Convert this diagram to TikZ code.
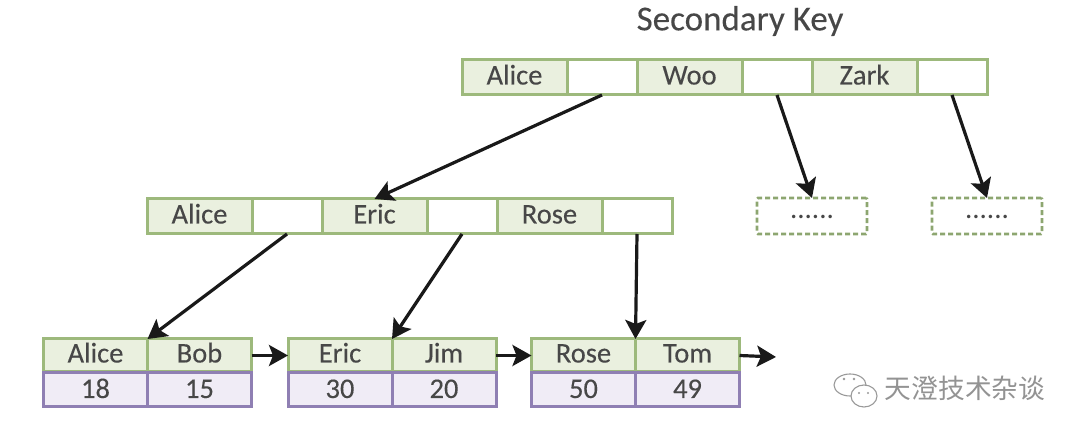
\documentclass[tikz,border=0pt]{standalone}
\usepackage{fontspec}
\setmainfont{Carlito}
\newfontfamily\cjk{Noto Sans CJK SC}
\usetikzlibrary{arrows.meta, positioning}

\definecolor{keygreen}{HTML}{9DB97C}
\definecolor{keyfill}{HTML}{EAF0DF}
\definecolor{valpurple}{HTML}{8F7FB3}
\definecolor{valfill}{HTML}{F0ECF6}
\definecolor{inkgray}{HTML}{474747}

\begin{document}
\begin{tikzpicture}[x=1pt, y=-1pt, >={Stealth[length=19pt, width=21pt, inset=4pt]},
      every node/.style={outer sep=0pt, inner sep=0pt, text=inkgray,
                  font=\fontsize{28.5}{28.5}\selectfont\addfontfeature{FakeBold=0.2}},
      link/.style={->, line width=3.2pt, black!90},
      key/.style={draw=keygreen, line width=3pt, fill=keyfill, minimum width=105pt, minimum height=35pt,
                  text height=18pt, text depth=4pt},
      ptr/.style={draw=keygreen, line width=3pt, fill=white, minimum width=70pt, minimum height=35pt},
      lkey/.style={key, minimum width=104pt, minimum height=33pt},
      val/.style={draw=valpurple, line width=3pt, fill=valfill, minimum width=104pt, minimum height=34pt,
                  text height=18pt, text depth=1pt},
      more/.style={draw=keygreen!90!black, line width=2.6pt, dash pattern=on 5pt off 3pt, rounded corners=1pt,
                  minimum width=110pt, minimum height=36pt, font=\fontsize{29}{29}\selectfont}]

    \useasboundingbox (0,0) rectangle (1080,435);

    % Row macro: #1=name, #2=y, #3=x of first cell, then 3 keys
    \newcommand{\noderow}[6]{%
        \node[key] (#1k1) at (#3+52.5,  #2) {#4};
        \node[ptr] (#1p1) at (#3+140,   #2) {};
        \node[key] (#1k2) at (#3+227.5, #2) {#5};
        \node[ptr] (#1p2) at (#3+315,   #2) {};
        \node[key] (#1k3) at (#3+402.5, #2) {#6};
        \node[ptr] (#1p3) at (#3+490,   #2) {};
    }
    % Leaf macro: #1=name, #2=x of first cell, then 2 keys and 2 values
    \newcommand{\leafpage}[6]{%
        \node[lkey] (#1a) at (#2+52,  355.5) {#3};
        \node[lkey] (#1b) at (#2+156, 355.5) {#4};
        \node[val]  (#1c) at (#2+52,  389.5) {#5};
        \node[val]  (#1d) at (#2+156, 389.5) {#6};
    }

    \node[font=\fontsize{35}{35}\selectfont\addfontfeature{FakeBold=0.2}] (title) at (740,21) {Secondary Key};

    %          name  y      x    keys
    \noderow  {top} {77.5} {462} {Alice}{Woo}{Zark}
    \noderow  {mid} {216.5}{147} {Alice}{Eric}{Rose}

    \node[more] (dots1) at (812,216) {\raisebox{-5pt}{......}};
    \node[more] (dots2) at (987,216) {\raisebox{-5pt}{......}};

    %          name x     keys        values
    \leafpage {la} {43.5}  {Alice}{Bob} {18}{15}
    \leafpage {lb} {288}   {Eric}{Jim}  {30}{20}
    \leafpage {lc} {531.5} {Rose}{Tom}  {50}{49}

    % Links between levels
    \draw[link] (topp1.south) -- (midk2.north);
    \draw[link] (topp2.south) -- (dots1.north);
    \draw[link] (topp3.south) -- (dots2.north);
    \draw[link] (midp1.south) -- (laa.north east);
    \draw[link] (midp2.south) -- (lba.north east);
    \draw[link] (midp3.south) -- (lca.north east);

    % Leaf chain
    \coordinate (tail) at (776,357);
    \draw[link] (lab.east) -- (lba.west);
    \draw[link] (lbb.east) -- (lca.west);
    \draw[link] (lcb.east) -- (tail);

    % Watermark
    \draw[gray!80, fill=white, line width=1.1pt] (850,385) ellipse [x radius=16, y radius=11];
    \draw[gray!80, fill=white, line width=1.1pt] (864,396) ellipse [x radius=13, y radius=11];
    \fill[gray!80] (844,379) circle (1.4) (854,379) circle (1.4) (859,393) circle (1.1) (868,393) circle (1.1);
    \node[font=\cjk\fontsize{26.7}{26.7}\selectfont, text=gray!85] (mark) at (965,388) {天澄技术杂谈};

\end{tikzpicture}
\end{document}
